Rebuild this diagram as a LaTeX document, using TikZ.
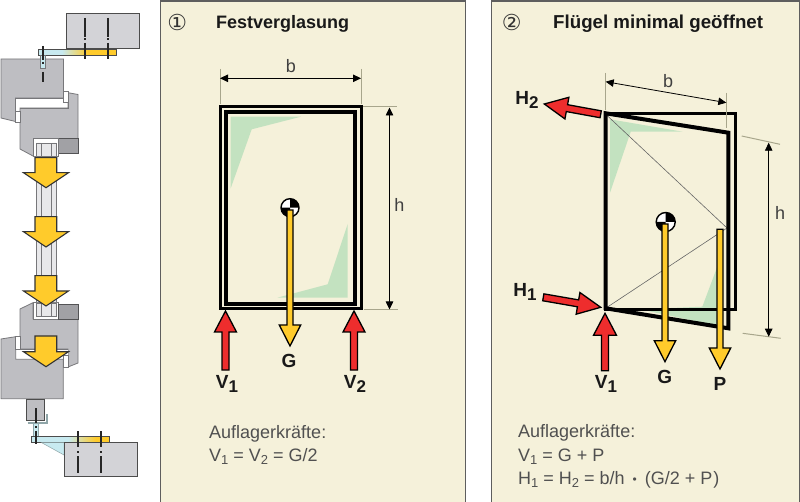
\documentclass[tikz,border=0pt]{standalone}
\usepackage{fontspec}
\setmainfont{Liberation Sans}
\newfontfamily\symfont{DejaVu Sans}
\usetikzlibrary{calc,arrows.meta}
\definecolor{panelbg}{HTML}{F5F1DA}
\definecolor{panelline}{HTML}{5E5E5E}
\definecolor{ygold}{HTML}{FFCB2B}
\definecolor{fred}{HTML}{EE2D2D}
\definecolor{pgreen}{HTML}{C3E2C0}
\definecolor{dimext}{HTML}{A8A68C}
\definecolor{prof}{HTML}{BEBEC2}
\definecolor{profedge}{HTML}{77777A}
\definecolor{glassb}{HTML}{D3D3D7}
\definecolor{lblue}{HTML}{C8EAF0}
\definecolor{mull}{HTML}{E8E8EA}
\definecolor{txtgray}{HTML}{505050}
\definecolor{teal}{HTML}{8FA5A8}
\tikzset{
  panel/.style={draw=panelline,line width=1.2pt,fill=panelbg},
  profile/.style={draw=profedge,line width=.8pt,fill=prof},
  whitecell/.style={draw=profedge,line width=.8pt,fill=white},
  glassblock/.style={draw=black!70,line width=1pt,fill=glassb},
  bar/.style={draw=black!85,line width=1.7pt},
  bigarrow/.style={draw=black!80,line width=1.1pt,fill=ygold,line join=miter},
  frameouter/.style={draw=black,line width=3pt,line join=miter},
  framesash/.style={draw=black,line width=4pt,line join=miter},
  dimline/.style={draw=black,line width=.8pt,{Triangle[length=8pt,width=7.5pt]}-{Triangle[length=8pt,width=7.5pt]}},
  dimext/.style={draw=dimext,line width=1pt},
  force/.style={draw=black,line width=1.3pt,line join=miter},
  dimlab/.style={inner sep=0pt,font=\fontsize{18}{18}\selectfont,text=black!75},
  flab/.style={inner sep=0pt,font=\bfseries\fontsize{19}{19}\selectfont,text=black!90},
  title/.style={inner sep=0pt,anchor=base west,font=\bfseries\fontsize{18}{18}\selectfont,text=black!90},
  numlab/.style={inner sep=0pt,font=\symfont\fontsize{22}{22}\selectfont,text=black!80},
  body/.style={inner sep=0pt,anchor=base west,font=\fontsize{18}{18}\selectfont,text=txtgray},
}
\newcommand{\blockarrow}[6]{% tail, tip, half shaft, half head, head length, colour
  \coordinate (ba1) at ($(#2)!#5!(#1)$);
  \draw[force,fill=#6]
    ($(#1)!#3!90:(#2)$) --
    ($(ba1)!#3!90:(#2)$) --
    ($(ba1)!#4!90:(#2)$) --
    (#2) --
    ($(ba1)!#4!-90:(#2)$) --
    ($(ba1)!#3!-90:(#2)$) --
    ($(#1)!#3!-90:(#2)$) -- cycle;
}
\newcommand{\centroid}[2]{%
  \fill[white] (#1) circle (#2);
  \fill[black] (#1) -- ++(-#2,0) arc[start angle=180,end angle=270,radius=#2] -- cycle;
  \fill[black] (#1) -- ++(#2,0) arc[start angle=0,end angle=90,radius=#2] -- cycle;
  \draw[black,line width=1.4pt] (#1) circle (#2);
}
\newcommand{\fsub}[1]{\raisebox{-4pt}{\fontsize{17}{17}\selectfont #1}}
\newcommand{\bsub}[1]{\raisebox{-3pt}{\fontsize{13}{13}\selectfont #1}}
\begin{document}
\begin{tikzpicture}[x=1pt,y=-1pt]
\useasboundingbox (0,0) rectangle (800,502);
\fill[white] (0,0) rectangle (800,502);
% ---------- left section drawing ----------
\fill[mull] (36.7,150) rectangle (56.7,310);
\draw[profedge,line width=1pt] (36.7,150) -- (36.7,310) (41,150) -- (41,310) (51.7,150) -- (51.7,310) (56.7,150) -- (56.7,310);
% upper glass
\draw[glassblock] (66,14) rectangle (139.3,49);
\fill[lblue] (38.5,49.5) rectangle (62,55);
\shade[left color=lblue,right color=ygold,shading=axis] (62,49.5) rectangle (88,55);
\fill[ygold] (88,49.5) rectangle (116.7,55);
\draw[black!70,line width=.9pt] (38.5,49.5) rectangle (116.7,55);
% upper profile
\draw[profile] (1,59) -- (63.5,59) -- (63.5,98) -- (15.5,98) -- (15.5,121.5) -- (1,118) -- cycle;
\fill[white] (15.5,98) rectangle (68,108);
\draw[profile] (20,108) -- (68,108) -- (68,92.7) -- (78,94.5) -- (78,153) -- (58,153) -- (58,156) -- (33,156) -- (20,149) -- cycle;
\draw[whitecell] (63.5,91) rectangle (68,102);
\draw[whitecell] (15.5,111) rectangle (20,122);
\draw[profedge,line width=.8pt] (15.5,98) -- (15.5,111) -- (20,111) (20,108) -- (68,108) -- (68,102) (63.5,59) -- (63.5,98) -- (15.5,98);
\draw[draw=profedge!70!black,line width=.9pt,fill=prof!85!black] (58,138) rectangle (78,153);
\draw[whitecell] (33,138.5) rectangle (58,156);
\draw[profedge,line width=.9pt,fill=mull] (41,143) rectangle (51.7,156);
\draw[profedge,line width=.9pt,fill=mull] (36.7,143) rectangle (41,156) (51.7,143) rectangle (56.7,156);
\draw[draw=profedge,fill=lblue,line width=.7pt] (40.7,55) rectangle (45.3,68.3);
\draw[bar] (85,18) -- (85,37.3) (85,38.5) -- (85,40) (85,43) -- (85,59.3);
\draw[bar] (108.3,18) -- (108.3,37.3) (108.3,38.5) -- (108.3,40) (108.3,43) -- (108.3,59.3);
\draw[bar] (43,46) -- (43,60) (43,62) -- (43,64) (43,72) -- (43,82.3);
% lower profile
\draw[profile] (20,309) -- (33,302.7) -- (33,319) -- (78,319) -- (78,363) -- (68,367) -- (68,349) -- (20,349) -- cycle;
\draw[whitecell] (33,302.7) rectangle (58,319);
\draw[profedge,line width=.9pt,fill=mull] (41,303) rectangle (51.7,316);
\draw[profedge,line width=.9pt,fill=mull] (36.7,303) rectangle (41,316) (51.7,303) rectangle (56.7,316);
\draw[draw=profedge!70!black,line width=.9pt,fill=prof!85!black] (58,304) rectangle (78,319);
\fill[white] (15.7,349) rectangle (68,359.3);
\draw[profile] (1,339) -- (15.7,336.7) -- (15.7,359.3) -- (63.3,359.3) -- (63.3,398.7) -- (1,398.7) -- cycle;
\draw[whitecell] (15.7,336.7) rectangle (20,349);
\draw[whitecell] (63.5,355) rectangle (68,367);
\draw[profedge,line width=.8pt] (15.7,349) -- (68,349);
% lower bracket and glass
\draw[draw=teal,line width=1.6pt] (27.5,423) -- (46.7,423) -- (46.7,414);
\draw[profile,draw=black!70] (26.7,399) rectangle (44.3,420.7);
\draw[draw=teal,fill=lblue,line width=.7pt] (33.5,423) rectangle (38,437);
\fill[lblue] (31.7,436.7) rectangle (68,442);
\shade[left color=lblue,right color=ygold,shading=axis] (68,436.7) rectangle (96,442);
\fill[ygold] (96,436.7) rectangle (109.3,442);
\draw[black!70,line width=.9pt] (31.7,436.7) rectangle (109.3,442);
\draw[draw=teal,fill=lblue,line width=.5pt] (41.7,442.7) -- (64,455) -- (64,442.7) -- cycle;
\draw[glassblock] (64.3,442.7) rectangle (137.3,476.7);
\draw[bar] (78.3,431) -- (78.3,446.7) (78.3,451) -- (78.3,453) (78.3,456) -- (78.3,472.7);
\draw[bar] (101.3,431) -- (101.3,446.7) (101.3,451) -- (101.3,453) (101.3,456) -- (101.3,472.7);
\draw[bar] (35.7,408) -- (35.7,423) (35.7,426) -- (35.7,428) (35.7,431) -- (35.7,444);
% yellow load arrows
\foreach \t/\s/\p in {157.7/172.7/187.7, 216.7/231.7/247, 275.7/291/306, 336/351.7/366.7}{
  \draw[bigarrow] (35,\t) -- (56.7,\t) -- (56.7,\s) -- (68.5,\s) -- (46,\p) -- (23.5,\s) -- (35,\s) -- cycle;
}
% ---------- panel 1 ----------
\node[panel,minimum width=305pt,minimum height=501pt,inner sep=0pt,anchor=north west] (p1) at (160,.5) {};
\node[numlab] (n1) at (177.3,22.5) {①};
\node[title] (t1) at (216,28.3) {Festverglasung};
\fill[pgreen] (230.7,116.7) -- (301,116.7) -- (251.7,129.3) -- (230.7,188.3) -- cycle;
\fill[pgreen] (347.7,297.7) -- (277.3,297.7) -- (327.7,284.3) -- (347.7,224) -- cycle;
\draw[frameouter] (220,107) rectangle (361,309);
\draw[framesash] (226,112.5) rectangle (355,304.3);
\coordinate (a1l) at (220,78.3); \coordinate (a1r) at (361,78.3);
\draw[dimext] (220,69) -- (220,104) (361,69) -- (361,104);
\draw[dimline] (a1l) -- (a1r);
\node[dimlab] (b1) at (291,66) {b};
\coordinate (a1t) at (389.5,107.5); \coordinate (a1b) at (389.5,309.5);
\draw[dimext] (363,107) -- (397,107) (364,309.7) -- (398,309.7);
\draw[dimline] (a1t) -- (a1b);
\node[dimlab] (h1lab) at (399.3,205) {h};
\coordinate (c1) at (290,207.7);
\centroid{c1}{9pt}
\coordinate (g1a) at (290,210); \coordinate (g1b) at (290,346);
\blockarrow{g1a}{g1b}{3pt}{10.7pt}{21pt}{ygold}
\coordinate (v1a) at (225.5,370); \coordinate (v1b) at (225.5,311);
\blockarrow{v1a}{v1b}{3.5pt}{11pt}{21pt}{fred}
\coordinate (v2a) at (354,370); \coordinate (v2b) at (354,311);
\blockarrow{v2a}{v2b}{3.5pt}{11pt}{21pt}{fred}
\node[flab] (g1) at (289,361) {G};
\node[flab] (V1) at (227,384) {V\fsub{1}};
\node[flab] (V2) at (355,384) {V\fsub{2}};
\node[body] (e1) at (209,438) {Auflagerkräfte:};
\node[body] (e2) at (209,461.5) {V\bsub{1} = V\bsub{2} = G/2};
% ---------- panel 2 ----------
\node[panel,minimum width=308pt,minimum height=501pt,inner sep=0pt,anchor=north west] (p2) at (491,.5) {};
\node[numlab] (n2) at (511.7,22) {②};
\node[title,font=\bfseries\fontsize{18.7}{19}\selectfont] (t2) at (553,28.3) {Flügel minimal geöffnet};
\fill[pgreen] (610,119.3) -- (682.7,131.7) -- (630.7,131.7) -- (610,192.7) -- cycle;
\fill[pgreen] (717.3,266.7) -- (702.3,306.7) -- (640,309.3) -- (718.3,326) -- cycle;
\draw[frameouter] (605.7,113.3) rectangle (735.7,309.3);
\draw[black!60,line width=.6pt] (606,114.5) -- (727,228) -- (606,308);
\draw[framesash] (605.7,113.3) -- (728.3,132.7) -- (728.3,328.3) -- (605.7,308.3) -- cycle;
\coordinate (a2l) at (605.7,81.7); \coordinate (a2r) at (726.3,102.7);
\draw[dimext] (605,73) -- (605,110) (726.3,93) -- (726.3,128);
\draw[dimline] (a2l) -- (a2r);
\node[dimlab] (b2) at (668,81) {b};
\coordinate (a2t) at (768.7,142.7); \coordinate (a2b) at (768.7,336.7);
\draw[dimext] (741.7,136) -- (780,144.3) (742.7,333.3) -- (780.7,338.3);
\draw[dimline] (a2t) -- (a2b);
\node[dimlab] (h2lab) at (780,213) {h};
\coordinate (c2) at (665.7,222);
\centroid{c2}{9.5pt}
\coordinate (g2a) at (665,224); \coordinate (g2b) at (665,361.7);
\blockarrow{g2a}{g2b}{3pt}{10.7pt}{21pt}{ygold}
\coordinate (p2a) at (720,229.3); \coordinate (p2b) at (720,369);
\blockarrow{p2a}{p2b}{3pt}{10.7pt}{21pt}{ygold}
\coordinate (v3a) at (605,370.7); \coordinate (v3b) at (605,313.3);
\blockarrow{v3a}{v3b}{3.5pt}{11.5pt}{22pt}{fred}
\coordinate (h1a) at (543.3,297.3); \coordinate (h1b) at (600.7,307.3);
\blockarrow{h1a}{h1b}{3.5pt}{11pt}{23pt}{fred}
\coordinate (h2a) at (600.7,114.3); \coordinate (h2b) at (544.3,104);
\blockarrow{h2a}{h2b}{3.5pt}{11pt}{23pt}{fred}
\node[flab] (G2) at (664.7,377) {G};
\node[flab] (P2) at (720,384) {P};
\node[flab] (V3) at (606,384) {V\fsub{1}};
\node[flab] (H1) at (525,292) {H\fsub{1}};
\node[flab] (H2) at (527,100) {H\fsub{2}};
\node[body] (f1) at (518,437.7) {Auflagerkräfte:};
\node[body] (f2) at (518,461) {V\bsub{1} = G + P};
\node[body] (f3) at (518,484.3) {H\bsub{1} = H\bsub{2} = b/h \,\raisebox{1pt}{\fontsize{12}{12}\selectfont\textbullet}\, (G/2 + P\kern1pt)};
\end{tikzpicture}
\end{document}
